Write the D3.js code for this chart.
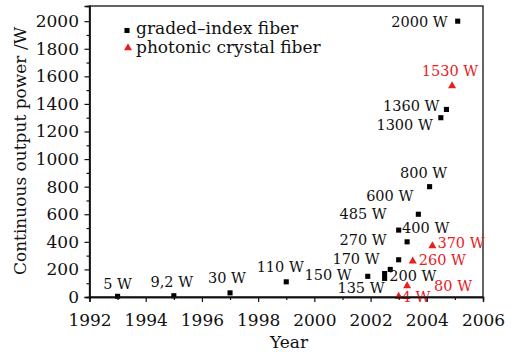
<!DOCTYPE html>
<html>
<head>
<meta charset="utf-8">
<script src="https://cdn.jsdelivr.net/npm/d3@7"></script>
<style>
	body { margin: 0; background: #fff; }
	text { font-family: 'DejaVu Serif', serif; }
</style>
</head>
<body>
<script>
// graded-index fiber
const gradedYears = [1993, 1995, 1997, 1999, 2001.9, 2002.5, 2002.5, 2002.7, 2003, 2003, 2003.3, 2003.7, 2004.1, 2004.5, 2004.7, 2005.1];
const gradedPower = [5, 9.2, 30, 110, 150, 135, 170, 200, 270, 485, 400, 600, 800, 1300, 1360, 2000];
const gradedLabels = ['5 W', '9,2 W', '30 W', '110 W', '150 W', '135 W', '170 W', '200 W', '270 W', '485 W', '400 W', '600 W', '800 W', '1300 W', '1360 W', '2000 W'];

// photonic crystal fiber
const pcfYears = [2003, 2003.3, 2003.5, 2004.2, 2004.9];
const pcfPower = [4, 80, 260, 370, 1530];
const pcfLabels = ['4 W', '80 W', '260 W', '370 W', '1530 W'];

const seriesNames = ['graded\u2013index fiber', 'photonic crystal fiber'];
const xTicks = [1992, 1994, 1996, 1998, 2000, 2002, 2004, 2006];
const yTicks = [0, 200, 400, 600, 800, 1000, 1200, 1400, 1600, 1800, 2000];

// label offsets [dx, dy, anchor] (layout only)
const gradedLabelPos = [
	[0, -7, 'middle'], [-2, -9, 'middle'], [-3, -10, 'middle'], [-6, -10, 'middle'],
	[-16, 4, 'end'], [0, 15, 'end'], [-5, -10, 'end'], [-1, 12, 'start'],
	[-12, -15, 'end'], [-12, -11, 'end'], [-5, -9, 'start'], [-5, -13.5, 'end'],
	[-6, -9, 'middle'], [-8, 12, 'end'], [-7, 2, 'end'], [-10, 5.5, 'end'],
];
const pcfLabelPos = [[3, 5.5, 'start'], [27, 5, 'start'], [6, 4, 'start'], [5, 2.5, 'start'], [-2, -10, 'middle']];

const w = 522;
const h = 356;
const padLeft = 89.5;
const padRight = 483;
const padTop = 6;
const padBottom = 297;
const red = '#e8201f';

const svg = d3
	.select('body')
	.append('svg')
	.attr('width', w)
	.attr('height', h)
	.style('background-color', '#fff');

const xScale = d3.scaleLinear().domain([1992, 2006]).range([padLeft, padRight]);
const yScale = d3.scaleLinear().domain([0, 2110]).range([padBottom, padTop]);

// frame
svg
	.append('rect')
	.attr('x', padLeft)
	.attr('y', padTop)
	.attr('width', padRight - padLeft)
	.attr('height', padBottom - padTop)
	.attr('fill', 'none')
	.attr('stroke', '#111')
	.attr('stroke-width', 1.3);

const graded = gradedYears.map((d, i) => ({ x: d, y: gradedPower[i], label: gradedLabels[i], pos: gradedLabelPos[i] }));
const pcf = pcfYears.map((d, i) => ({ x: d, y: pcfPower[i], label: pcfLabels[i], pos: pcfLabelPos[i] }));

const square = d3.symbol().type(d3.symbolSquare).size(26);
const triangle = d3.symbol().type(d3.symbolTriangle).size(28);

svg
	.selectAll('.sq')
	.data(graded)
	.enter()
	.append('path')
	.attr('class', 'sq')
	.attr('d', square)
	.attr('transform', d => `translate(${xScale(d.x)},${yScale(d.y)})`)
	.attr('fill', '#000');

svg
	.selectAll('.tri')
	.data(pcf)
	.enter()
	.append('path')
	.attr('class', 'tri')
	.attr('d', triangle)
	.attr('transform', d => `translate(${xScale(d.x)},${yScale(d.y)})`)
	.attr('fill', red);

svg
	.selectAll('.glab')
	.data(graded)
	.enter()
	.append('text')
	.attr('class', 'glab')
	.attr('x', d => xScale(d.x) + d.pos[0])
	.attr('y', d => yScale(d.y) + d.pos[1])
	.attr('text-anchor', d => d.pos[2])
	.style('font-size', '14.5px')
	.attr('fill', '#111')
	.text(d => d.label);

svg
	.selectAll('.plab')
	.data(pcf)
	.enter()
	.append('text')
	.attr('class', 'plab')
	.attr('x', d => xScale(d.x) + d.pos[0])
	.attr('y', d => yScale(d.y) + d.pos[1])
	.attr('text-anchor', d => d.pos[2])
	.style('font-size', '14.5px')
	.attr('fill', red)
	.text(d => d.label);

// axes
svg
	.append('g')
	.attr('transform', `translate(0,${padBottom})`)
	.call(d3.axisBottom(xScale).tickValues(xTicks).tickFormat(d3.format('d')).tickSize(5).tickPadding(12));
svg
	.append('g')
	.attr('transform', `translate(0,${padBottom})`)
	.call(d3.axisBottom(xScale).tickValues(d3.range(1993, 2006, 2)).tickFormat('').tickSize(3));

svg
	.append('g')
	.attr('transform', `translate(${padLeft},0)`)
	.call(d3.axisLeft(yScale).tickValues(yTicks).tickFormat(d3.format('d')).tickSize(5).tickPadding(5.5));
svg
	.append('g')
	.attr('transform', `translate(${padLeft},0)`)
	.call(d3.axisLeft(yScale).tickValues(d3.range(100, 2001, 200)).tickFormat('').tickSize(3));

svg.selectAll('.domain').attr('stroke', '#111').attr('stroke-width', 1.3);
svg.selectAll('.tick line').attr('stroke', '#111').attr('stroke-width', 1.2);
svg
	.selectAll('.tick text')
	.style('font-family', "'DejaVu Serif', serif")
	.style('font-size', '17px')
	.attr('fill', '#111');

// axis titles
svg
	.append('text')
	.attr('x', 289)
	.attr('y', 348)
	.attr('text-anchor', 'middle')
	.style('font-size', '17px')
	.attr('fill', '#111')
	.text('Year');

svg
	.append('text')
	.attr('transform', 'translate(25.5,151) rotate(-90)')
	.attr('text-anchor', 'middle')
	.style('font-size', '17px')
	.attr('fill', '#111')
	.text('Continuous output power /W');

// legend
const legend = svg.append('g');
legend.append('path').attr('d', square).attr('transform', 'translate(127,30.5)').attr('fill', '#000');
legend.append('path').attr('d', triangle).attr('transform', 'translate(128,48)').attr('fill', red);
legend
	.selectAll('text')
	.data(seriesNames)
	.enter()
	.append('text')
	.attr('x', 136)
	.attr('y', (d, i) => 34 + i * 19)
	.style('font-size', '17px')
	.attr('fill', '#111')
	.text(d => d);
</script>
</body>
</html>
